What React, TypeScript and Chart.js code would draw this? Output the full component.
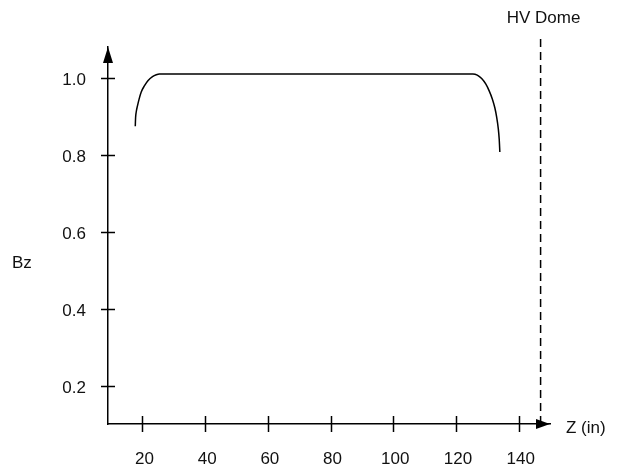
import React, { useEffect, useRef } from "react";
import { Chart, registerables } from "chart.js";

Chart.register(...registerables);

// Axial position Z (in) and normalized field Bz
const zValues = [
  17.7, 17.8, 18.0, 18.4, 18.9, 19.6, 20.6, 21.8, 23.2, 24.4, 25.4,
  125.4, 126.8, 128.2, 129.5, 130.6, 131.6, 132.4, 133.0, 133.5, 133.8, 134.0,
];
const bzValues = [
  0.874, 0.896, 0.911, 0.927, 0.944, 0.963, 0.979, 0.993, 1.003, 1.008, 1.01,
  1.01, 1.007, 0.998, 0.984, 0.966, 0.945, 0.922, 0.897, 0.868, 0.84, 0.807,
];

// HV Dome marker
const domeZ = 147;
const domeLineBz = [0.1, 1.103];
const domeLabel = "HV Dome";

const xTickValues = [20, 40, 60, 80, 100, 120, 140];
const yTickValues = [0.2, 0.4, 0.6, 0.8, 1.0];
const xAxisLabel = "Z (in)";
const yAxisLabel = "Bz";

const FONT = "'Liberation Sans', Arial, Helvetica, sans-serif";
const FONT_SIZE = 17;
const TEXT_COLOR = "#111";

const decorPlugin = {
  id: "decor",
  afterDraw(chart: any) {
    const { ctx, chartArea, scales } = chart;
    const { left, right, top, bottom } = chartArea;
    const x = scales.x;
    const y = scales.y;
    ctx.save();
    ctx.strokeStyle = "#000";
    ctx.lineWidth = 1.5;
    const line = (x1: number, y1: number, x2: number, y2: number) => {
      ctx.beginPath();
      ctx.moveTo(x1, y1);
      ctx.lineTo(x2, y2);
      ctx.stroke();
    };
    xTickValues.forEach((v) => {
      const px = Math.round(x.getPixelForValue(v)) + 0.5;
      line(px, bottom - 8, px, bottom + 8);
    });
    yTickValues.forEach((v) => {
      const py = Math.round(y.getPixelForValue(v)) + 0.5;
      line(left - 7, py, left + 7, py);
    });
    ctx.fillStyle = "#000";
    // x arrow
    ctx.beginPath();
    ctx.moveTo(right, bottom);
    ctx.lineTo(right - 14, bottom - 5);
    ctx.lineTo(right - 14, bottom + 5);
    ctx.closePath();
    ctx.fill();
    // y arrow
    ctx.beginPath();
    ctx.moveTo(left, top);
    ctx.lineTo(left - 5, top + 16);
    ctx.lineTo(left + 5, top + 16);
    ctx.closePath();
    ctx.fill();
    // texts
    ctx.fillStyle = TEXT_COLOR;
    ctx.font = `${FONT_SIZE}px ${FONT}`;
    ctx.textBaseline = "middle";
    ctx.textAlign = "left";
    ctx.fillText(yAxisLabel, 12, 263);
    ctx.fillText(xAxisLabel, right + 16, bottom + 4);
    ctx.textAlign = "center";
    ctx.fillText(domeLabel, x.getPixelForValue(domeZ) + 3, 18);
    ctx.restore();
  },
};

export default function App() {
  const canvasRef = useRef<HTMLCanvasElement | null>(null);

  useEffect(() => {
    const canvas = canvasRef.current;
    if (!canvas) return;
    const chart = new Chart(canvas, {
      type: "line",
      data: {
        datasets: [
          {
            label: "Bz",
            data: zValues.map((z, i) => ({ x: z, y: bzValues[i] })),
            borderColor: "#000",
            borderWidth: 1.5,
            pointRadius: 0,
            cubicInterpolationMode: "monotone",
            fill: false,
          },
          {
            label: domeLabel,
            data: domeLineBz.map((b) => ({ x: domeZ, y: b })),
            borderColor: "#000",
            borderWidth: 1.5,
            borderDash: [8, 5],
            pointRadius: 0,
            fill: false,
            clip: false,
          } as any,
        ],
      },
      options: {
        responsive: false,
        animation: false,
        layout: { padding: { left: 0, top: 47, right: 69, bottom: 0 } },
        plugins: {
          legend: { display: false },
          tooltip: { enabled: false },
          title: { display: false },
        },
        scales: {
          x: {
            type: "linear",
            min: 9,
            max: 150,
            grid: { display: false, drawTicks: false },
            border: { display: true, color: "#000", width: 1.5 },
            afterBuildTicks: (s: any) => {
              s.ticks = xTickValues.map((v) => ({ value: v }));
            },
            afterFit: (s: any) => {
              s.height = 48;
            },
            ticks: {
              color: TEXT_COLOR,
              font: { family: FONT, size: FONT_SIZE },
              padding: 25,
              labelOffset: 2,
              maxRotation: 0,
              autoSkip: false,
              callback: (v: any) => String(v),
            },
          },
          y: {
            type: "linear",
            min: 0.1,
            max: 1.08,
            grid: { display: false, drawTicks: false },
            border: { display: true, color: "#000", width: 1.5 },
            afterBuildTicks: (s: any) => {
              s.ticks = yTickValues.map((v) => ({ value: v }));
            },
            afterFit: (s: any) => {
              s.width = 108;
            },
            ticks: {
              color: TEXT_COLOR,
              font: { family: FONT, size: FONT_SIZE },
              padding: 22,
              labelOffset: 3,
              autoSkip: false,
              callback: (v: any) => Number(v).toFixed(1),
            },
          },
        },
      },
      plugins: [decorPlugin],
    });
    return () => chart.destroy();
  }, []);

  return (
    <div style={{ position: "fixed", left: 0, top: 0, width: 619, height: 472, background: "#fff" }}>
      <canvas ref={canvasRef} width={619} height={472} style={{ display: "block" }} />
    </div>
  );
}
